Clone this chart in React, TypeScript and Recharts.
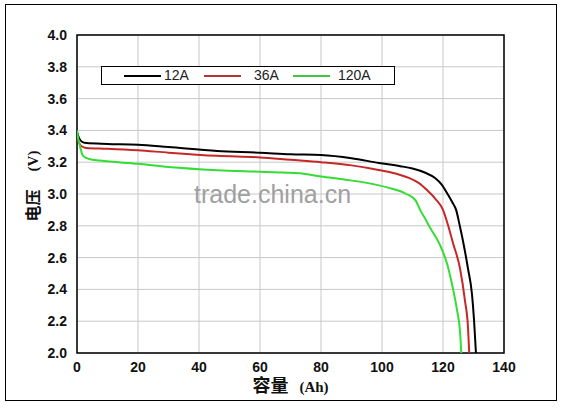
import React from 'react';
import { LineChart, Line, XAxis, YAxis, CartesianGrid, ReferenceArea, Legend, Label } from 'recharts';

const xTicks = [0, 20, 40, 60, 80, 100, 120, 140];
const yTicks = [2.0, 2.2, 2.4, 2.6, 2.8, 3.0, 3.2, 3.4, 3.6, 3.8, 4.0];

const seriesNames = ['12A', '36A', '120A'];
const seriesColors = ['#000000', '#c62828', '#33dd33'];
const legendColors = ['#000000', '#b03434', '#44c444'];

const cap12 = [0, 0.5, 1.5, 3, 10, 20, 30, 46, 60, 70, 80, 90, 99, 106, 110, 114, 117.4, 119.5, 121.5, 123, 124.3, 125.5, 126.6, 128.2, 129.5, 130.2, 130.8];
const v12 = [3.39, 3.36, 3.33, 3.32, 3.315, 3.31, 3.295, 3.27, 3.26, 3.25, 3.245, 3.225, 3.195, 3.175, 3.16, 3.135, 3.10, 3.06, 3.0, 2.95, 2.9, 2.8, 2.7, 2.53, 2.37, 2.2, 2.0];

const cap36 = [0, 0.5, 1.5, 3, 10, 20, 30, 46, 60, 70, 80, 90, 99.3, 103, 106, 109, 112, 115, 117.5, 120, 121.7, 123.3, 125.6, 127.2, 128.2, 128.6];
const v36 = [3.37, 3.33, 3.30, 3.29, 3.285, 3.275, 3.26, 3.24, 3.23, 3.215, 3.2, 3.18, 3.15, 3.135, 3.12, 3.1, 3.07, 3.02, 2.97, 2.9, 2.8, 2.69, 2.53, 2.33, 2.16, 2.0];

const cap120 = [0, 0.3, 1, 2, 4, 7.5, 20, 30, 46, 60, 73, 80, 88, 95, 102, 108, 111, 112.5, 114, 115.7, 119, 121.5, 123.2, 124.6, 125.6, 126];
const v120 = [3.4, 3.36, 3.3, 3.24, 3.22, 3.21, 3.19, 3.17, 3.15, 3.14, 3.13, 3.11, 3.09, 3.07, 3.04, 3.0, 2.96, 2.9, 2.85, 2.79, 2.68, 2.55, 2.41, 2.27, 2.13, 2.0];

const build = (xs: number[], ys: number[]) => xs.map((x, i) => ({ x, v: ys[i] }));
const seriesData = [build(cap12, v12), build(cap36, v36), build(cap120, v120)];

const tickStyle = { fontFamily: '"Liberation Sans", Arial, sans-serif', fontWeight: 700, fontSize: 14, fill: '#111' };

const LegendBox = () => {
  const linePos = [22, 102, 191];
  const textPos = [62, 152, 236];
  return (
    <div style={{ position: 'relative', width: 294, height: 19, border: '1px solid #000', background: '#fff', boxSizing: 'border-box' }}>
      {seriesNames.map((n, i) => (
        <React.Fragment key={n}>
          <div style={{ position: 'absolute', left: linePos[i], top: 8, width: 37, height: 2, background: legendColors[i] }} />
          <div style={{ position: 'absolute', left: textPos[i], top: 0, lineHeight: '17px', fontSize: 14, fontFamily: '"Liberation Sans", Arial, sans-serif', color: '#222' }}>{n}</div>
        </React.Fragment>
      ))}
    </div>
  );
};

const YLabel = () => (
  <text
    x={33}
    y={186}
    transform="rotate(-90 33 186)"
    textAnchor="middle"
    dominantBaseline="central"
    style={{ fontFamily: '"Liberation Serif", "Noto Sans CJK SC", serif', fontWeight: 700, fill: '#111' }}
  >
    <tspan fontSize={16}>电压</tspan>
    <tspan fontSize={15} dx={18}>(V)</tspan>
  </text>
);

const XLabel = (props: any) => {
  const vb = props.viewBox || { x: 77, width: 427 };
  const cx = vb.x + vb.width / 2;
  return (
    <text
      x={cx}
      y={392}
      textAnchor="middle"
      style={{ fontFamily: '"Liberation Serif", "Noto Sans CJK SC", serif', fontWeight: 700, fill: '#111' }}
    >
      <tspan fontSize={18}>容量</tspan>
      <tspan fontSize={15} dx={11}>(Ah)</tspan>
    </text>
  );
};

export default function App() {
  return (
    <div style={{ position: 'absolute', left: 0, top: 0, width: 562, height: 408, background: '#fff' }}>
      <LineChart width={562} height={408} margin={{ top: 35, right: 58, bottom: 0, left: 0 }}>
        <CartesianGrid stroke="#c8c8c8" strokeWidth={1} />
        <XAxis
          type="number"
          dataKey="x"
          domain={[0, 140]}
          ticks={xTicks}
          height={55}
          axisLine={false}
          tickLine={false}
          tickSize={0}
          tickMargin={9}
          tick={tickStyle}
          allowDataOverflow
        >
          <Label content={<XLabel />} />
        </XAxis>
        <YAxis
          type="number"
          domain={[2, 4]}
          ticks={yTicks}
          width={77}
          axisLine={false}
          tickLine={false}
          tickSize={0}
          tickMargin={10}
          tick={tickStyle}
          tickFormatter={(v: number) => v.toFixed(1)}
          allowDataOverflow
        >
          <Label content={<YLabel />} />
        </YAxis>
        <ReferenceArea x1={0} x2={140} y1={2} y2={4} fill="none" fillOpacity={0} stroke="#000" strokeWidth={1.5} />
        {seriesData.map((d, i) => (
          <Line
            key={seriesNames[i]}
            data={d}
            dataKey="v"
            name={seriesNames[i]}
            type="monotone"
            stroke={seriesColors[i]}
            strokeWidth={2}
            dot={false}
            isAnimationActive={false}
          />
        ))}
        <Legend
          layout="horizontal"
          verticalAlign="middle"
          align="center"
          content={<LegendBox />}
          wrapperStyle={{ position: 'absolute', left: 101, top: 66, width: 294, height: 19 }}
        />
      </LineChart>
      <svg width={562} height={408} style={{ position: 'absolute', left: 0, top: 0, pointerEvents: 'none' }}>
        <text x={194} y={203} style={{ fontFamily: '"Liberation Sans", Arial, sans-serif', fontSize: 25, fill: '#a0a0a0' }}>trade.china.cn</text>
      </svg>
      <div style={{ position: 'absolute', left: 5, top: 4, width: 552, height: 397, border: '1.5px solid #000', boxSizing: 'border-box', pointerEvents: 'none' }} />
    </div>
  );
}
